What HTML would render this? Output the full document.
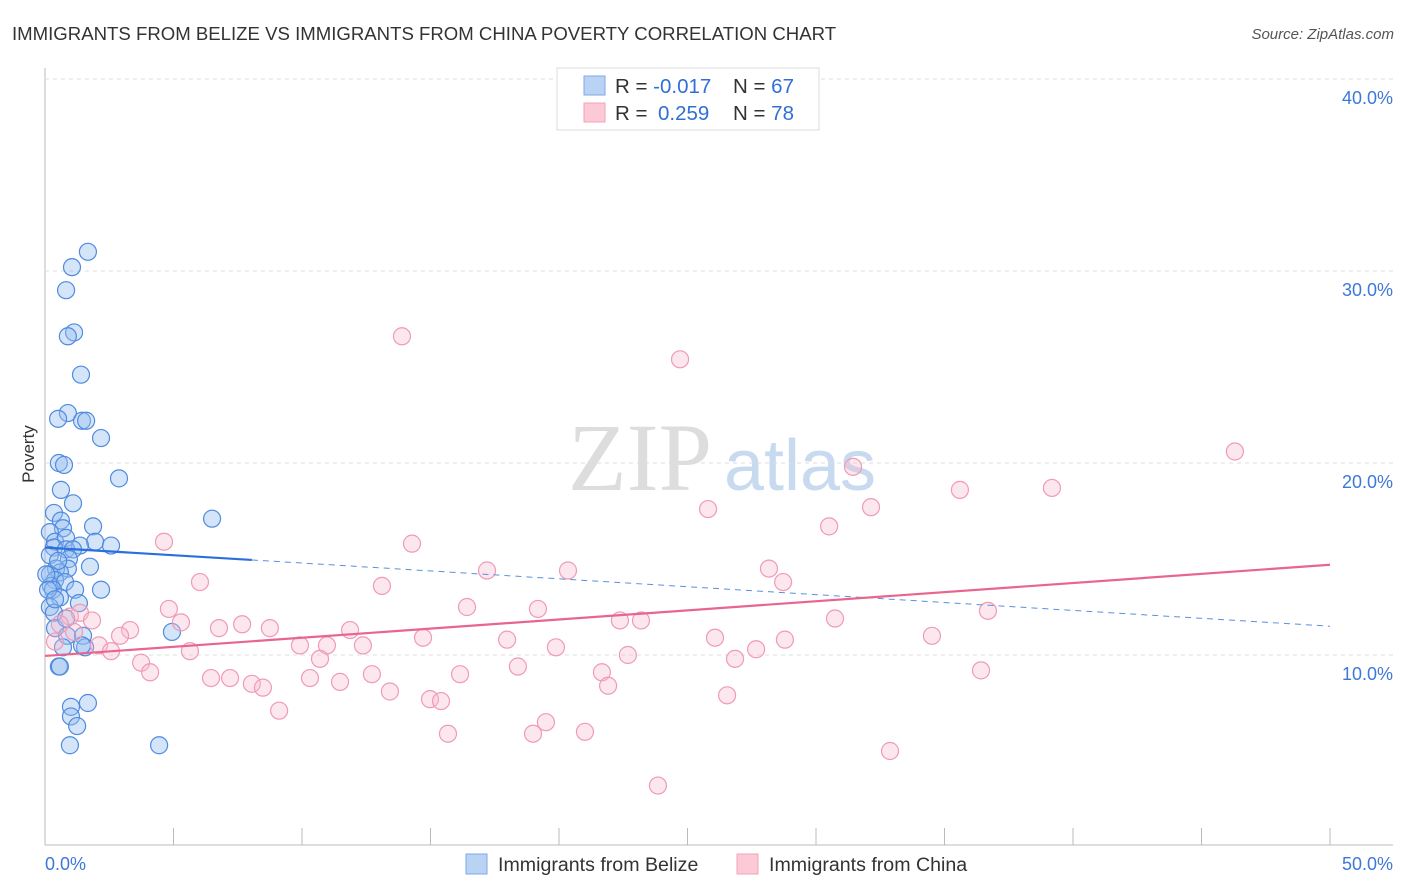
<!DOCTYPE html>
<html><head><meta charset="utf-8"><style>
body{margin:0;background:#fff;font-family:"Liberation Sans",sans-serif;}
svg{display:block}
</style></head><body>
<svg width="1406" height="892" id="chart">
<text x="12" y="40" font-size="18.6" fill="#333">IMMIGRANTS FROM BELIZE VS IMMIGRANTS FROM CHINA POVERTY CORRELATION CHART</text>
<text x="1394" y="39" font-size="15" fill="#555" font-style="italic" text-anchor="end">Source: ZipAtlas.com</text>
<text x="36" y="456" font-size="17" fill="#333" transform="rotate(-90 34 456)" text-anchor="middle">Poverty</text>
<text x="640" y="490" font-size="96" fill="#ddd" font-family="Liberation Serif,serif" text-anchor="middle">ZIP</text>
<text x="800" y="490" font-size="72" fill="#c8daf0" text-anchor="middle">atlas</text>
<line x1="45" y1="68" x2="45" y2="845" stroke="#bbb"/>
<line x1="45" y1="845" x2="1393" y2="845" stroke="#bbb"/>
<g id="grid"></g><g id="pts"></g><g id="trend"></g>
<g>
<rect x="557" y="68" width="262" height="62" fill="#fff" stroke="#ddd"/>
<rect x="584" y="76" width="21" height="19" fill="#b9d3f5" stroke="#7fa9e6"/>
<rect x="584" y="103" width="21" height="19" fill="#fcc9d7" stroke="#f2a3ba"/>
<text x="615" y="93" font-size="20.5" fill="#333">R = <tspan fill="#2f6fd6">-0.017</tspan><tspan x="733">N = </tspan><tspan fill="#2f6fd6">67</tspan></text>
<text x="615" y="120" font-size="20.5" fill="#333">R = <tspan x="658" fill="#2f6fd6">0.259</tspan><tspan x="733">N = </tspan><tspan fill="#2f6fd6">78</tspan></text>
</g>
<text x="45" y="870" font-size="18" fill="#3d78d8">0.0%</text>
<text x="1393" y="870" font-size="18" fill="#3d78d8" text-anchor="end">50.0%</text>
<g>
<rect x="466" y="854" width="21" height="20" fill="#b9d3f5" stroke="#7fa9e6"/>
<text x="498" y="871" font-size="19.6" fill="#333">Immigrants from Belize</text>
<rect x="737" y="854" width="21" height="20" fill="#fcc9d7" stroke="#f2a3ba"/>
<text x="769" y="871" font-size="19.6" fill="#333">Immigrants from China</text>
</g>
</svg>
<script>
const yTicks=[10,20,30,40];
const xTicks=[5,10,15,20,25,30,35,40,45,50];
const belizeX=[1.67,1.05,0.82,1.13,0.89,1.40,0.89,0.51,1.44,1.60,2.18,0.54,0.74,2.88,0.62,1.09,6.50,0.35,0.62,1.87,0.70,0.19,0.39,0.82,1.95,2.57,1.36,0.35,0.82,1.09,0.19,0.93,1.75,0.89,0.43,0.58,0.19,0.39,0.23,0.78,2.18,1.17,0.31,0.58,1.32,0.19,4.94,0.35,0.39,0.86,1.48,0.70,1.56,1.44,0.54,0.58,1.01,1.67,1.01,1.25,0.97,4.44,0.51,0.05,0.12,0.39,0.82];
const belizeY=[31.0,30.2,29.0,26.8,26.6,24.6,22.6,22.3,22.2,22.2,21.3,20.0,19.9,19.2,18.6,17.9,17.1,17.4,17.0,16.7,16.6,16.4,15.9,16.1,15.9,15.7,15.7,15.6,15.5,15.5,15.2,15.0,14.6,14.5,14.5,14.3,14.2,13.9,13.6,13.8,13.4,13.4,13.4,13.0,12.7,12.5,11.2,12.2,11.4,11.0,11.0,10.4,10.4,10.5,9.4,9.4,7.3,7.5,6.8,6.3,5.3,5.3,14.9,14.2,13.4,12.9,11.9];
const chinaX=[13.89,24.71,46.30,31.44,25.80,32.14,30.51,35.60,39.18,4.63,14.28,17.20,20.35,13.11,28.17,28.72,6.03,16.42,19.18,4.82,5.29,7.67,8.75,6.77,3.31,2.92,11.87,22.37,23.19,30.74,36.69,26.07,34.51,17.98,14.71,28.79,9.92,10.97,12.37,19.88,27.67,2.10,2.57,5.64,22.68,26.85,3.74,10.70,4.09,18.40,16.15,12.72,21.67,36.42,6.46,7.20,8.05,8.48,10.31,11.48,13.42,21.91,14.98,15.41,26.54,9.11,19.49,15.68,18.99,21.01,32.88,23.85,0.97,1.36,1.83,0.58,1.13,0.39];
const chinaY=[26.6,25.4,20.6,19.8,17.6,17.7,16.7,18.6,18.7,15.9,15.8,14.4,14.4,13.6,14.5,13.8,13.8,12.5,12.4,12.4,11.7,11.6,11.4,11.4,11.3,11.0,11.3,11.8,11.8,11.9,12.3,10.9,11.0,10.8,10.9,10.8,10.5,10.5,10.5,10.4,10.3,10.5,10.2,10.2,10.0,9.8,9.6,9.8,9.1,9.4,9.0,9.0,9.1,9.2,8.8,8.8,8.5,8.3,8.8,8.6,8.1,8.4,7.7,7.6,7.9,7.1,6.5,5.9,5.9,6.0,5.0,3.2,12.0,12.2,11.8,11.6,11.2,10.7];
const X=v=>45+v*25.7, Y=v=>847-v*19.2;
const NS='http://www.w3.org/2000/svg';
function mk(g,tag,a){const e=document.createElementNS(NS,tag);for(const k in a)e.setAttribute(k,a[k]);document.getElementById(g).appendChild(e);return e;}
yTicks.forEach(t=>{
 const l=mk('grid','line',{x1:45,x2:1393,y1:Y(t),y2:Y(t),stroke:'#ddd','stroke-dasharray':'4,4'});
 
 
 const s=mk('grid','text',{x:1393,y:Y(t)+25,'font-size':18,fill:'#3d78d8','text-anchor':'end'});
 s.textContent=t.toFixed(1)+'%';
 
 
});
xTicks.forEach(t=>{
 const l=mk('grid','line',{x1:X(t),x2:X(t),y1:828,y2:845,stroke:'#bbb'});
 
 
});
belizeX.forEach((v,i)=>{
 const c=mk('pts','circle',{cx:X(v),cy:Y(belizeY[i]),r:8.5,fill:'rgba(150,190,240,0.4)',stroke:'#4f8be0','stroke-width':1.2});
 
 
});
chinaX.forEach((v,i)=>{
 const c=mk('pts','circle',{cx:X(v),cy:Y(chinaY[i]),r:8.5,fill:'rgba(250,185,205,0.35)',stroke:'#f09ab5','stroke-width':1.2});
 
 
});
let t1=mk('trend','line',{x1:X(0),y1:Y(15.6),x2:X(8.05),y2:Y(14.95),stroke:'#2a6fdc','stroke-width':2.2});


let t2=mk('trend','line',{x1:X(8.05),y1:Y(14.95),x2:X(50),y2:Y(11.5),stroke:'#5a8fdf','stroke-width':1,'stroke-dasharray':'6,5'});


let t3=mk('trend','line',{x1:X(0),y1:Y(9.95),x2:X(50),y2:Y(14.7),stroke:'#e8658f','stroke-width':2.2});


</script>
</body></html>
